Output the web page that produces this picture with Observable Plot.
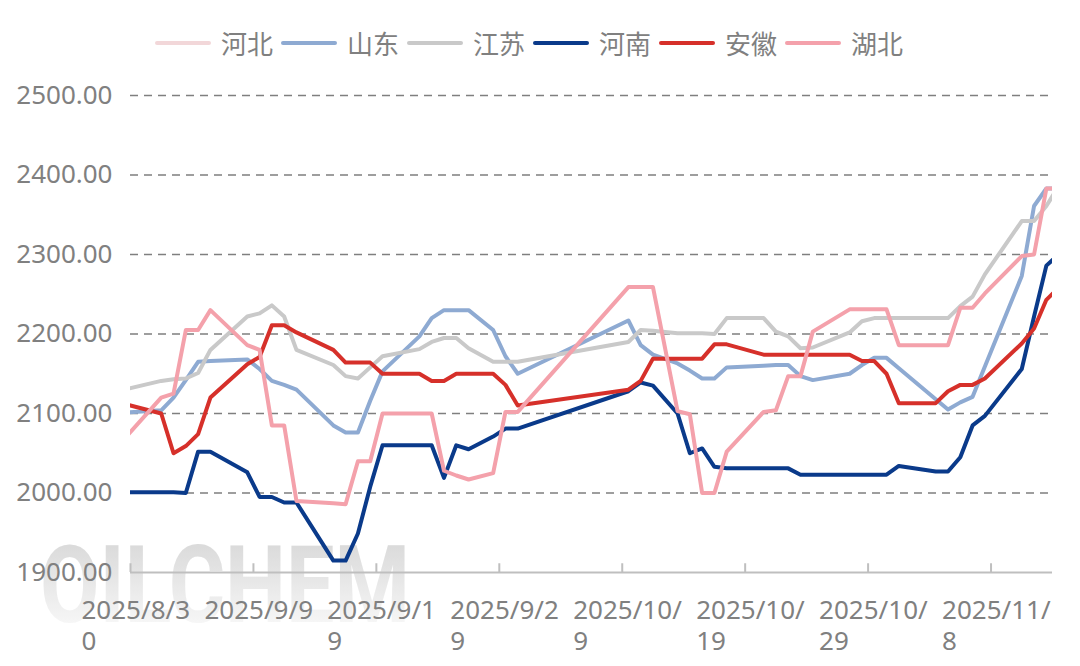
<!DOCTYPE html>
<html><head><meta charset="utf-8">
<script src="https://cdn.jsdelivr.net/npm/d3@7"></script>
<script src="https://cdn.jsdelivr.net/npm/@observablehq/plot@0.6"></script>
<style>
body{margin:0;background:#fff;font-family:"Noto Sans","Noto Sans CJK SC",sans-serif;}
#wrap{position:relative;width:1080px;height:666px;overflow:hidden;}
#legend{position:absolute;left:0;top:25px;width:1080px;height:36px;display:flex;justify-content:center;align-items:center;padding-right:14px;box-sizing:border-box;z-index:2;}
.item{display:flex;align-items:center;margin-right:8px;}
.sw{width:56px;height:4px;border-radius:2px;margin-right:10px;}
.lab{font-family:"Noto Sans CJK SC","Noto Sans",sans-serif;font-size:26px;color:#808080;line-height:36px;}
</style></head>
<body><div id="wrap"><div id="legend"></div></div>
<script>
const dates = ["2025-08-29","2025-09-01","2025-09-02","2025-09-03","2025-09-04","2025-09-05","2025-09-08","2025-09-09","2025-09-10","2025-09-11","2025-09-12","2025-09-15","2025-09-16","2025-09-17","2025-09-18","2025-09-19","2025-09-22","2025-09-23","2025-09-24","2025-09-25","2025-09-26","2025-09-28","2025-09-29","2025-09-30","2025-10-09","2025-10-10","2025-10-11","2025-10-13","2025-10-14","2025-10-15","2025-10-16","2025-10-17","2025-10-20","2025-10-21","2025-10-22","2025-10-23","2025-10-24","2025-10-27","2025-10-28","2025-10-29","2025-10-30","2025-10-31","2025-11-03","2025-11-04","2025-11-05","2025-11-06","2025-11-07","2025-11-10","2025-11-11","2025-11-12","2025-11-13"];

const seriesNames = ["河北","山东","江苏","河南","安徽","湖北"];
const seriesColors = ["#f2d7d9","#8eaad2","#c9c9c9","#0a3a8a","#d6302a","#f4a1ab"];

const hebei = [];
const shandong = [2101,2104,2120,2142,2165,2166,2168,2156,2141,2136,2130,2085,2076,2076,2116,2153,2197,2220,2230,2230,2230,2205,2172,2150,2217,2186,2174,2163,2154,2144,2144,2158,2160,2161,2161,2147,2142,2150,2161,2170,2170,2157,2118,2105,2114,2121,2159,2273,2361,2383,2383];
const jiangsu = [2130,2141,2143,2144,2151,2180,2222,2226,2236,2222,2180,2161,2147,2144,2158,2172,2181,2190,2195,2195,2182,2165,2165,2165,2190,2205,2204,2201,2201,2201,2200,2220,2220,2203,2197,2182,2183,2202,2216,2220,2220,2220,2220,2220,2235,2247,2275,2342,2342,2361,2386];
const henan = [2001,2001,2001,2000,2052,2052,2026,1995,1995,1988,1988,1915,1915,1949,2008,2060,2060,2060,2019,2060,2055,2071,2081,2081,2128,2139,2135,2100,2050,2056,2033,2031,2031,2031,2031,2023,2023,2023,2023,2023,2023,2034,2027,2027,2045,2085,2097,2156,2222,2286,2300];
const anhui = [2112,2100,2050,2059,2074,2120,2162,2171,2211,2211,2202,2180,2164,2164,2164,2150,2150,2141,2141,2150,2150,2150,2136,2110,2130,2141,2169,2169,2169,2169,2187,2187,2174,2174,2174,2174,2174,2174,2166,2166,2150,2113,2113,2128,2136,2136,2144,2188,2207,2243,2258];
const hubei = [2068,2120,2125,2205,2205,2230,2186,2180,2085,2085,1990,1987,1986,2040,2040,2100,2100,2100,2028,2022,2017,2025,2102,2102,2259,2259,2259,2103,2099,2000,2000,2052,2102,2104,2147,2147,2203,2231,2231,2231,2231,2186,2186,2186,2233,2233,2251,2298,2300,2383,2383];
const seriesValues = [hebei, shandong, jiangsu, henan, anhui, hubei];

const yTicks = [1900,2000,2100,2200,2300,2400,2500];
const xTickDates = ["2025-08-30","2025-09-09","2025-09-19","2025-09-29","2025-10-09","2025-10-19","2025-10-29","2025-11-08"];
const xTickLabels = ["2025/8/30","2025/9/9","2025/9/19","2025/9/29","2025/10/9","2025/10/19","2025/10/29","2025/11/8"];
const xDomain = ["2025-08-30","2025-11-13"];

const parse = d3.utcParse("%Y-%m-%d");
const rows = seriesNames.flatMap((name, i) => seriesValues[i].map((v, j) => ({
  name, date: d3.utcHour.offset(parse(dates[j]), 12), value: v
})));
const ticks = xTickDates.map((d, i) => ({date: parse(d), label: xTickLabels[i].length > 8 ? xTickLabels[i].slice(0, 8) + "\n" + xTickLabels[i].slice(8) : xTickLabels[i]}));

const font = "Noto Sans";
const plot = Plot.plot({
  width: 1080, height: 666,
  marginTop: 95, marginBottom: 94, marginLeft: 130, marginRight: 28,
  style: {fontFamily: font, background: "transparent"},
  x: {type: "utc", domain: xDomain.map(parse), axis: null},
  y: {domain: [1900, 2500], axis: null},
  color: {domain: seriesNames, range: seriesColors},
  marks: [
    Plot.ruleY(yTicks.filter(d => d > 1900), {y: d => d, stroke: "#7f7f7f", strokeWidth: 1.5, strokeDasharray: "8,6"}),
    Plot.ruleY([1900], {stroke: "#bfbfbf", strokeWidth: 2}),
    Plot.ruleX(ticks, {x: "date", y1: 1900, y2: 1911, stroke: "#bfbfbf", strokeWidth: 2}),
    Plot.text(yTicks, {y: d => d, frameAnchor: "left", text: d => d.toFixed(2), textAnchor: "end", dx: -18, fontSize: 26, fill: "#808080", fontFamily: font}),
    Plot.text(ticks, {x: "date", y: 1900, text: "label", textAnchor: "start", lineAnchor: "top", dx: -49, dy: 24, lineHeight: 1.2, fontSize: 26, fill: "#808080", fontFamily: font}),
    Plot.line(rows, {x: "date", y: "value", z: "name", stroke: "name", strokeWidth: 4, strokeLinejoin: "round", strokeLinecap: "round", clip: true})
  ]
});

// watermark behind everything
const svg = d3.select(plot);
const defs = svg.insert("defs", ":first-child");
const grad = defs.append("linearGradient").attr("id", "wm").attr("x1", 0).attr("y1", 0).attr("x2", 0).attr("y2", 1);
grad.append("stop").attr("offset", "0%").attr("stop-color", "#c4c4c4");
grad.append("stop").attr("offset", "100%").attr("stop-color", "#ffffff");
svg.insert("text", "defs + *")
  .attr("x", 40).attr("y", 622)
  .attr("text-anchor", "start")
  .style("text-anchor", "start")
  .attr("font-family", "Roboto, 'Noto Sans', sans-serif").attr("font-weight", "bold").attr("font-size", 108)
  .attr("textLength", 370).attr("lengthAdjust", "spacingAndGlyphs")
  .attr("fill", "url(#wm)").attr("opacity", 0.75)
  .text("OILCHEM");

const wrap = document.getElementById("wrap");
wrap.appendChild(plot);

const legend = document.getElementById("legend");
seriesNames.forEach((n, i) => {
  const it = document.createElement("div"); it.className = "item";
  const sw = document.createElement("div"); sw.className = "sw"; sw.style.background = seriesColors[i];
  const lb = document.createElement("span"); lb.className = "lab"; lb.textContent = n;
  it.appendChild(sw); it.appendChild(lb); legend.appendChild(it);
});
</script>
</body></html>
